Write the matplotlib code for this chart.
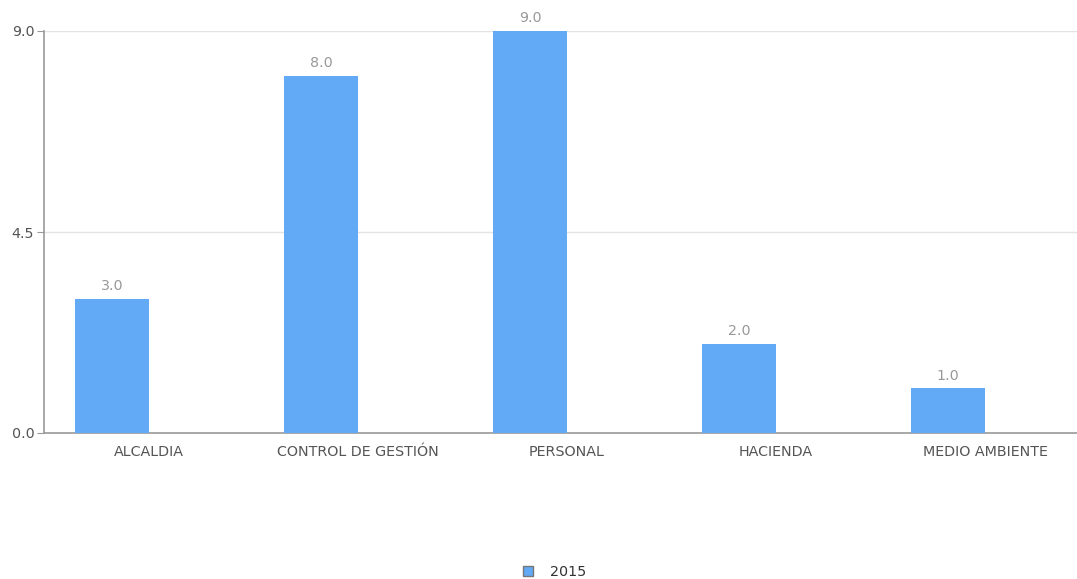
import matplotlib as mpl
mpl.use('agg')
import matplotlib.pyplot as plt
from matplotlib.lines import Line2D

categories = ['ALCALDIA', 'CONTROL DE GESTIÓN', 'PERSONAL', 'HACIENDA', 'MEDIO AMBIENTE']
values_2015 = [3.0, 8.0, 9.0, 2.0, 1.0]
series_name = '2015'
yticks = [0.0, 4.5, 9.0]

bar_color = '#62aaf5'
text_dark = '#555555'
text_light = '#999999'
axis_color = '#999999'
grid_color = '#e3e3e3'

plt.rc('font', family='DejaVu Sans')

fig = plt.figure(figsize=(10.77, 5.79), dpi=100)
ax = fig.add_axes([44 / 1077, 1 - 433 / 579, 1 - 44 / 1077, (433 - 31) / 579])

width = 0.354
xs = list(range(len(categories)))
bars = ax.bar([x - width / 2 for x in xs], values_2015, width=width,
              color=bar_color, zorder=3)

for b, v in zip(bars, values_2015):
    ax.annotate(f'{v:.1f}', (b.get_x() + b.get_width() / 2, v),
                xytext=(0, 4), textcoords='offset points',
                ha='center', va='bottom', fontsize=10.3, color=text_light)

ax.set_xlim(-0.502, 4.44)
ax.set_ylim(0, 9.0)
ax.set_xticks(xs)
ax.set_xticklabels(categories, fontsize=10.3, color=text_dark)
ax.tick_params(axis='x', length=0, pad=9)
ax.set_yticks(yticks)
ax.set_yticklabels([f'{t:.1f}' for t in yticks], fontsize=10.3, color=text_dark)
ax.tick_params(axis='y', length=5, color=axis_color, pad=2)

ax.grid(axis='y', color=grid_color, linewidth=1, zorder=0)
for s in ['top', 'right']:
    ax.spines[s].set_visible(False)
for s in ['left', 'bottom']:
    ax.spines[s].set_color(axis_color)
    ax.spines[s].set_linewidth(1.2)

handle = Line2D([], [], marker='s', linestyle='none', markersize=7,
                markerfacecolor=bar_color, markeredgecolor='#777777')
fig.legend([handle], [series_name], loc='center', frameon=False,
           bbox_to_anchor=(550 / 1077, 1 - 572 / 579), fontsize=10.3,
           handletextpad=0.5, labelcolor='#333333')

fig.savefig('out.png', dpi=100)
